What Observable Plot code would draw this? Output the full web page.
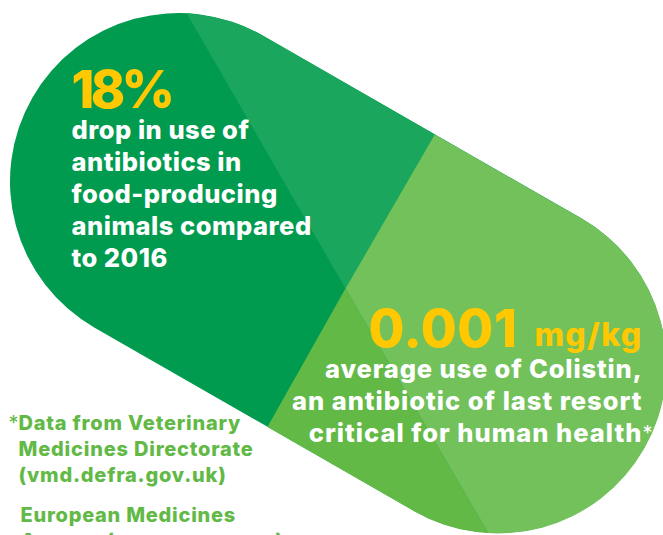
<!DOCTYPE html>
<html><head><meta charset="utf-8">
<script src="https://cdn.jsdelivr.net/npm/d3@7"></script>
<script src="https://cdn.jsdelivr.net/npm/@observablehq/plot@0.6"></script>
<style>html,body{margin:0;padding:0;background:#fff;overflow:hidden}svg{display:block;overflow:hidden}</style>
</head><body><div id="c"></div><script>
const pillAxis=[{x:178,y:181},{x:497,y:364}];
const regions=[
 {name:"topWedge",color:"#1BA65E",pts:[[150,-50],[345,288],[480,55],[300,-50]]},
 {name:"bottomWedge",color:"#62B946",pts:[[345,288],[200,545],[495,545]]},
 {name:"rightSide",color:"#72C15B",pts:[[480,55],[345,288],[495,545],[700,545],[700,55]]}
];
const regionPts=regions.flatMap(r=>r.pts.map(p=>({name:r.name,color:r.color,x:p[0],y:p[1]})));
const F="Inter, sans-serif";
const leftLines=["drop in use of","antibiotics in","food-producing","animals compared","to 2016"];
const leftBase=[138,170,202,234,266];
const rightLines=["average use of Colistin,"];
const rightLines2=["an antibiotic of last resort","critical for human health"];
const noteLines=["Data from Veterinary","Medicines Directorate","(vmd.defra.gov.uk)"];
const noteBase=[429,455,481];
const note2=["European Medicines","Agency (ema.europa.eu)"];
const note2Base=[521,547];
const txt=(arr,base,x,o)=>Plot.text(arr.map((t,i)=>({t,y:base[i],x})),{x:"x",y:"y",text:"t",lineAnchor:"bottom",fontFamily:F,fontWeight:800,...o});
const spacing=[-3.7,0.5,0.6,1.3,0.85,1,0,0,0.8,0.75];
const chart=Plot.plot({width:663,height:535,margin:0,
 x:{domain:[0,663],range:[0,663],axis:null},y:{domain:[0,535],range:[0,535],axis:null},
 marks:[
  Plot.line(pillAxis,{x:"x",y:"y",stroke:"#009B4E",strokeWidth:337,strokeLinecap:"round"}),
  Plot.line(regionPts,{x:"x",y:"y",z:"name",fill:"color",stroke:"none",curve:"linear-closed"}),
  txt(["18%"],[107],71,{fill:"#FFC800",fontSize:52,textAnchor:"start"}),
  txt(leftLines,leftBase,71,{fill:"#fff",fontSize:25.5,textAnchor:"start"}),
  txt(["0.001"],[346],517,{fill:"#FFC800",fontSize:52,textAnchor:"end"}),
  txt(["mg/kg"],[345],642,{fill:"#FFC800",fontSize:32,textAnchor:"end"}),
  txt(rightLines,[377],642,{fill:"#fff",fontSize:25.5,textAnchor:"end"}),
  txt(rightLines2,[409,441],642,{fill:"#fff",fontSize:25.5,textAnchor:"end"}),
  txt(["*"],[439],642,{fill:"#fff",fontSize:20,fontWeight:400,textAnchor:"start"}),
  txt(["*"],[429],8,{fill:"#62B946",fontSize:20,fontWeight:400,textAnchor:"start"}),
  txt(noteLines,noteBase,18,{fill:"#62B946",fontSize:20,textAnchor:"start"}),
  txt(note2,note2Base,20,{fill:"#62B946",fontSize:20,textAnchor:"start"})
 ]});
document.getElementById("c").append(chart);
chart.querySelectorAll('g[aria-label="text"]').forEach((g,i)=>{g.style.letterSpacing=(spacing[i]||0)+"px";});
const ns="http://www.w3.org/2000/svg";
const lines=chart.querySelectorAll('g[aria-label="line"]');
const pill=lines[0], regs=lines[1];
const mask=document.createElementNS(ns,"mask");
mask.setAttribute("id","pillMask");
mask.setAttribute("maskUnits","userSpaceOnUse");
mask.setAttribute("x",0);mask.setAttribute("y",0);mask.setAttribute("width",663);mask.setAttribute("height",535);
const clone=pill.cloneNode(true);
clone.setAttribute("stroke","#fff");
clone.querySelectorAll("[stroke]").forEach(e=>e.setAttribute("stroke","#fff"));
mask.append(clone);
chart.append(mask);
regs.setAttribute("mask","url(#pillMask)");
</script></body></html>
